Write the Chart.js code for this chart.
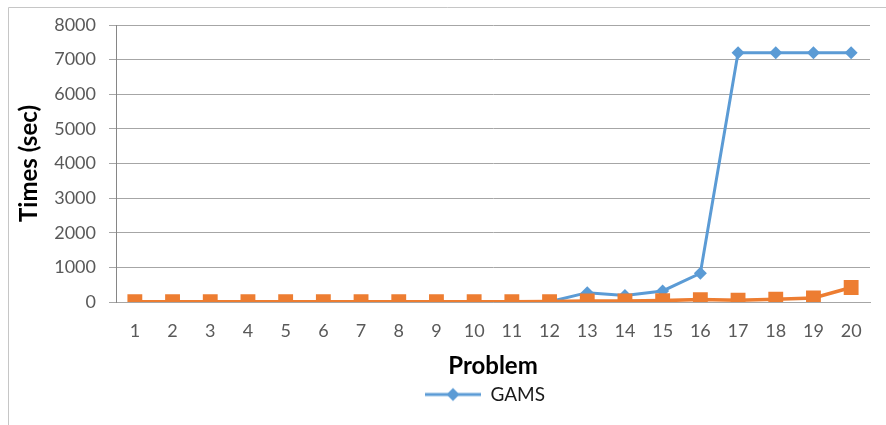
<!DOCTYPE html>
<html>
<head>
<meta charset="utf-8">
<script src="https://cdn.jsdelivr.net/npm/chart.js@4.4.1/dist/chart.umd.min.js"></script>
<style>
  html, body { margin: 0; padding: 0; background: #fff; }
  #wrap { width: 886px; height: 425px; position: relative; }
</style>
</head>
<body>
<div id="wrap"><canvas id="myChart" width="886" height="425"></canvas></div>
<script>
var problems = ['1', '2', '3', '4', '5', '6', '7', '8', '9', '10',
                '11', '12', '13', '14', '15', '16', '17', '18', '19', '20'];
var gams = [5, 5, 5, 5, 5, 5, 5, 5, 5, 5, 5, 5, 270, 185, 320, 830, 7200, 7200, 7200, 7200];
var other = [10, 10, 10, 10, 10, 10, 10, 10, 10, 10, 10, 12, 30, 30, 40, 70, 50, 80, 115, 420];
var yTicks = [0, 1000, 2000, 3000, 4000, 5000, 6000, 7000, 8000];

var blue = '#5b9bd5';
var orange = '#ed7d31';

// legend sample: a short line with a diamond in the middle
var sample = document.createElement('canvas');
sample.width = 56;
sample.height = 16;
var sc = sample.getContext('2d');
sc.strokeStyle = blue;
sc.lineWidth = 3;
sc.beginPath();
sc.moveTo(0, 8);
sc.lineTo(56, 8);
sc.stroke();
sc.fillStyle = blue;
sc.beginPath();
sc.moveTo(28, 1.5);
sc.lineTo(34.5, 8);
sc.lineTo(28, 14.5);
sc.lineTo(21.5, 8);
sc.closePath();
sc.fill();

// thin frame around the chart, legend nudged a bit left
var framePlugin = {
  id: 'frame',
  afterLayout: function (chart) {
    chart.legend.left -= 8;
    chart.legend.right -= 8;
  },
  beforeDraw: function (chart) {
    var c = chart.ctx;
    c.save();
    c.strokeStyle = '#c6c6c6';
    c.lineWidth = 1;
    c.beginPath();
    c.moveTo(8.5, 425);
    c.lineTo(8.5, 7.5);
    c.lineTo(886, 7.5);
    c.stroke();
    c.restore();
  }
};

var ctx = document.getElementById('myChart').getContext('2d');
var myChart = new Chart(ctx, {
  type: 'line',
  data: {
    labels: problems,
    datasets: [{
      label: 'GAMS',
      data: gams,
      borderColor: blue,
      backgroundColor: blue,
      borderWidth: 3,
      pointStyle: 'rectRot',
      pointRadius: 6.5,
      pointBorderWidth: 0,
      order: 1
    }, {
      label: 'Other',
      data: other,
      borderColor: orange,
      backgroundColor: orange,
      borderWidth: 3.5,
      pointStyle: 'rect',
      pointRadius: 10.5,
      pointBorderWidth: 0,
      order: 0
    }]
  },
  options: {
    responsive: false,
    animation: false,
    layout: { padding: { top: 25, left: 10, right: 16, bottom: 11 } },
    plugins: {
      tooltip: { enabled: false },
      legend: {
        position: 'bottom',
        fullSize: false,
        labels: {
          usePointStyle: true,
          pointStyleWidth: 56,
          padding: 4,
          color: '#1a1a1a',
          font: { family: 'Lato', size: 19 },
          filter: function (item) { return item.datasetIndex === 0; },
          generateLabels: function (chart) {
            var items = Chart.defaults.plugins.legend.labels.generateLabels(chart);
            items.forEach(function (it) { it.pointStyle = sample; });
            return items;
          }
        }
      }
    },
    scales: {
      x: {
        offset: true,
        grid: { display: false, drawTicks: false },
        border: { display: true, color: '#a6a6a6' },
        ticks: { color: '#595959', padding: 18, font: { family: 'Lato', size: 18 }, maxRotation: 0 },
        title: {
          display: true,
          text: 'Problem',
          color: '#000',
          padding: { top: 0, bottom: 0 },
          font: { family: 'Lato', size: 24, weight: 'bold' }
        },
        afterFit: function (s) { s.height = 79; }
      },
      y: {
        min: 0,
        max: 8000,
        afterBuildTicks: function (s) { s.ticks = yTicks.map(function (v) { return { value: v }; }); },
        grid: { color: '#a6a6a6', lineWidth: 1, tickLength: 7, tickColor: '#a6a6a6' },
        border: { display: true, color: '#868686' },
        ticks: {
          color: '#595959',
          padding: 13,
          font: { family: 'Lato', size: 18 },
          callback: function (v) { return String(v); }
        },
        title: {
          display: true,
          text: 'Times (sec)',
          color: '#000',
          padding: { top: 5, bottom: 0 },
          font: { family: 'Lato', size: 24, weight: 'bold' }
        },
        afterFit: function (s) { s.width = 106; }
      }
    }
  },
  plugins: [framePlugin]
});
</script>
</body>
</html>
